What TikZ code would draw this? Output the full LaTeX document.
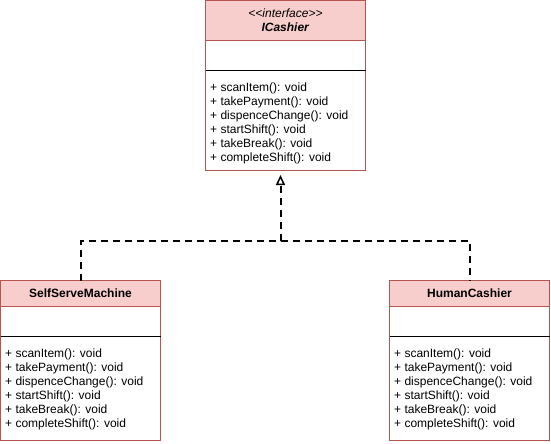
\documentclass[tikz,border=0pt]{standalone}
\usepackage{fontspec}
\setmainfont{Liberation Sans}
\usetikzlibrary{arrows.meta}

\definecolor{headfill}{HTML}{F8CECC}
\definecolor{headline}{HTML}{B85450}

\tikzset{
  classbox/.style={draw=headline, fill=white, line width=1pt, minimum width=160pt,
    inner sep=0pt, outer sep=0pt, anchor=north west},
  header/.style={classbox, fill=headfill, align=center, font=\fontsize{12}{14}\selectfont},
  divider/.style={black, line width=1pt},
  method/.style={anchor=west, inner sep=0pt, font=\fontsize{12}{14}\selectfont},
  realize/.style={black, line width=2pt, dash pattern=on 7pt off 5pt}
}

\begin{document}
\begin{tikzpicture}[x=1pt,y=-1pt]

 \useasboundingbox[fill=white] (0,0) rectangle (551,444);

	%draw classes
 \def\w{160};
 \def\gap{30};
 \def\dy{14};

    \foreach \name/\x/\y/\h/\hh/\title in {
        icashier/205.5/0.5/170/40/{\textit{<\kern0pt<interface>\kern0pt>}\\\textbf{\textit{ICashier}}},
        selfserve/0.5/280.5/160/26/{\textbf{SelfServeMachine}},
        human/389.5/280.5/160/26/{\textbf{HumanCashier}}}{
         \node[classbox, minimum height=\h pt] (\name) at (\x,\y) {};
         \node[header, minimum height=\hh pt] (\name-head) at (\x,\y) {\title};
         \draw[divider] (\x,\y+\hh+\gap) -- ++(\w,0);
      \foreach \m [count=\i] in {scanItem,takePayment,dispenceChange,startShift,takeBreak,completeShift}{
           \node[method] (\name-m\i) at (\x+4.5, \y+\hh+\gap+17.5+\dy*\i-\dy) {+ \m(): void};
      }
    }

%realization
 \coordinate (join) at (280.5,240.5);
 \draw[realize] (selfserve.north) |- (join) -| (human.north);
 \draw[realize, -{Triangle[open,length=10pt,width=9pt,line width=1.5pt]}, shorten >=4.5pt] (join) -- (join |- icashier.south);

\end{tikzpicture}
\end{document}
